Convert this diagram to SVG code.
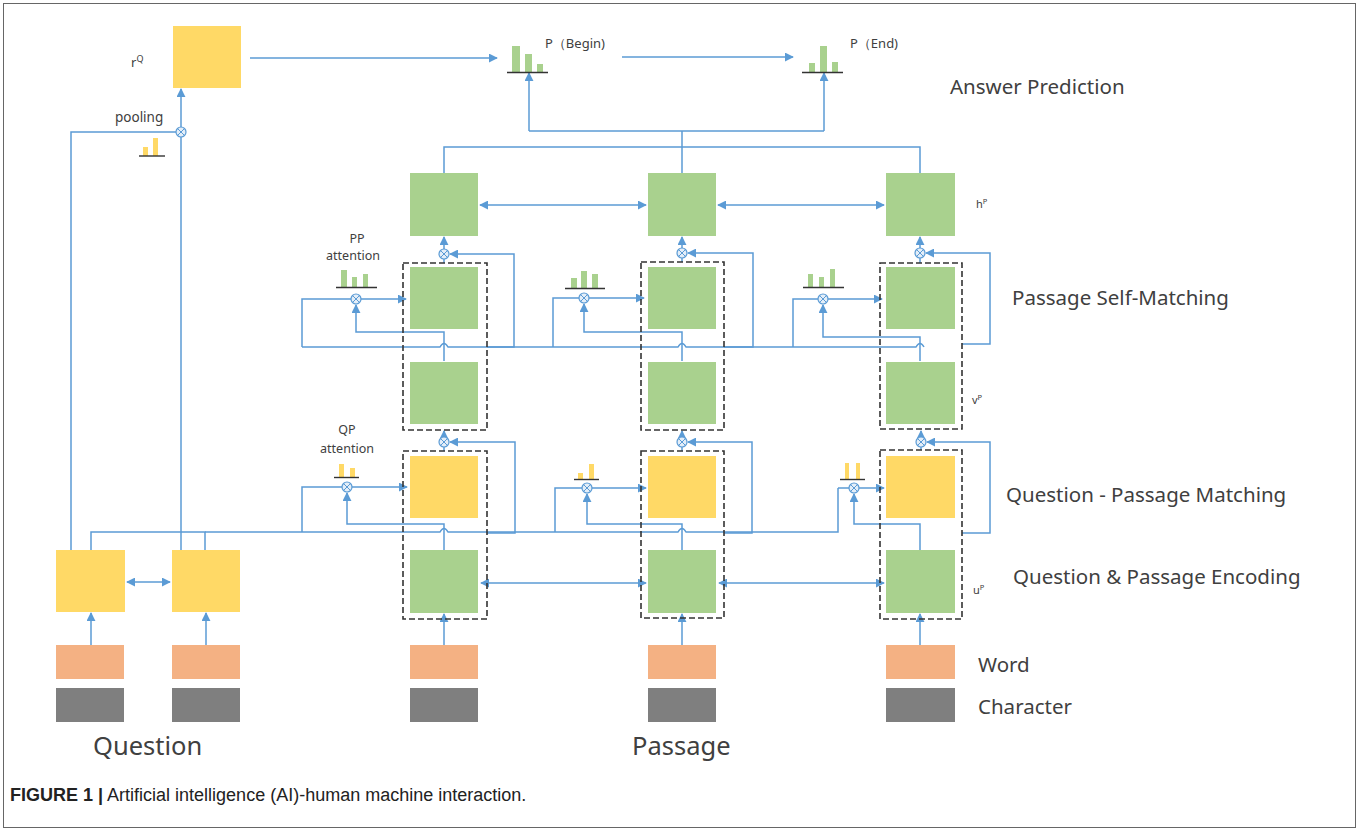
<svg xmlns="http://www.w3.org/2000/svg" xmlns:xlink="http://www.w3.org/1999/xlink" width="1359" height="831" viewBox="0 0 1359 831">
  <style>
    .ln { fill: none; stroke: #5B9BD5; stroke-width: 1.5; }
    .arr { marker-end: url(#ah); }
    .arr2 { marker-start: url(#ah); marker-end: url(#ah); }
    .yel { fill: #FFD966; }
    .grn { fill: #A9D18E; }
    .wrd { fill: #F4B183; }
    .chr { fill: #7F7F7F; }
    .dash { fill: none; stroke: #333; stroke-width: 1.6; stroke-dasharray: 6 3; }
    .base { stroke: #333; stroke-width: 1.4; }
    .bg { fill: #A9D18E; }
    .by { fill: #FFD966; }
    .t { font-family: "Noto Sans", "Open Sans", "DejaVu Sans", sans-serif; fill: #404040; }
    .sm { font-size: 12.5px; }
    .lab { font-size: 20.5px; }
    .big { font-size: 25.5px; }
    .cap { font-family: "Liberation Sans", Arial, sans-serif; font-size: 18px; fill: #222; }
  </style>
  <defs>
    <marker id="ah" viewBox="0 0 10 10" refX="9" refY="5" markerWidth="9" markerHeight="9" markerUnits="userSpaceOnUse" orient="auto-start-reverse">
      <path d="M0,0 L10,5 L0,10 z" fill="#5B9BD5"/>
    </marker>
    <g id="gate">
      <circle r="5" fill="#E4EEF8" stroke="#5B9BD5" stroke-width="1.2"/>
      <path d="M-3,-3 L3,3 M-3,3 L3,-3" stroke="#5B9BD5" stroke-width="1"/>
    </g>
  </defs>

  <rect width="1359" height="831" fill="#fff"/>
  <rect x="3.5" y="3.5" width="1352" height="824" fill="none" stroke="#666" stroke-width="1"/>

  <!-- connectors -->
  <g id="connectors">
    <!-- question pooling to rQ -->
    <polyline class="ln" points="71,550 71,132 176,132"/>
    <line class="ln arr" x1="181" y1="550" x2="181" y2="89"/>
    <!-- rQ to answer pointers -->
    <line class="ln arr" x1="250" y1="58" x2="497" y2="58"/>
    <line class="ln arr" x1="622" y1="57" x2="793" y2="57"/>
    <!-- hP outputs up to the pointers -->
    <line class="ln arr" x1="529" y1="131" x2="529" y2="73"/>
    <line class="ln arr" x1="824" y1="131" x2="824" y2="73"/>
    <line class="ln" x1="529" y1="131" x2="824" y2="131"/>
    <line class="ln" x1="682" y1="131" x2="682" y2="173"/>
    <polyline class="ln" points="444,173 444,147 920,147 920,173"/>
    <!-- hP recurrence -->
    <line class="ln arr2" x1="480" y1="205" x2="646" y2="205"/>
    <line class="ln arr2" x1="718" y1="205" x2="884" y2="205"/>

    <!-- self-matching gates into hP -->
    <line class="ln arr" x1="444" y1="249" x2="444" y2="237"/>
    <line class="ln arr" x1="682" y1="248" x2="682" y2="237"/>
    <line class="ln arr" x1="920" y1="248" x2="920" y2="237"/>
    <line class="ln" x1="444" y1="263" x2="444" y2="259"/>
    <line class="ln" x1="682" y1="262" x2="682" y2="258"/>
    <line class="ln" x1="920" y1="263" x2="920" y2="258"/>
    <polyline class="ln arr" points="487,347 514,347 514,254 450,254"/>
    <polyline class="ln arr" points="724,347 753,347 753,253 688,253"/>
    <polyline class="ln arr" points="962,344 990,344 990,253 926,253"/>

    <!-- shared passage sequence line (hops over vertical links) -->
    <path class="ln" d="M302,347 H440 q4,-7 8,0 H678 q4,-7 8,0 H916 q4,-7 8,0"/>

    <!-- PP attention -->
    <polyline class="ln arr" points="302,347 302,299 406,299"/>
    <polyline class="ln arr" points="444,361 444,332 356,332 356,305"/>
    <polyline class="ln arr" points="553,347 553,298 644,298"/>
    <polyline class="ln arr" points="682,361 682,332 584,332 584,304"/>
    <polyline class="ln arr" points="793,347 793,299 882,299"/>
    <polyline class="ln arr" points="920,361 920,337 823,337 823,305"/>

    <!-- QP gates into self-matching block -->
    <line class="ln arr" x1="444" y1="437" x2="444" y2="431"/>
    <line class="ln arr" x1="682" y1="437" x2="682" y2="431"/>
    <line class="ln arr" x1="921" y1="437" x2="921" y2="431"/>
    <line class="ln" x1="444" y1="451" x2="444" y2="447"/>
    <line class="ln" x1="682" y1="451" x2="682" y2="447"/>
    <line class="ln" x1="921" y1="450" x2="921" y2="447"/>
    <polyline class="ln arr" points="487,533 515,533 515,442 450,442"/>
    <polyline class="ln arr" points="724,533 752,533 752,442 688,442"/>
    <polyline class="ln arr" points="962,533 990,533 990,442 927,442"/>

    <!-- question encoding line -->
    <polyline class="ln" points="91,550 91,532 205,532 205,550"/>
    <path class="ln" d="M205,532 H440 q4,-7 8,0 H678 q4,-7 8,0 H838 V488"/>

    <!-- QP attention -->
    <polyline class="ln arr" points="302,532 302,487 407,487"/>
    <polyline class="ln arr" points="444,550 444,524 347,524 347,493"/>
    <polyline class="ln arr" points="555,532 555,488 646,488"/>
    <polyline class="ln arr" points="682,550 682,524 587,524 587,494"/>
    <polyline class="ln arr" points="838,488 884,488"/>
    <polyline class="ln arr" points="920,550 920,524 854,524 854,494"/>

    <!-- encoding recurrence -->
    <line class="ln arr2" x1="127" y1="582" x2="170" y2="582"/>
    <line class="ln arr2" x1="481" y1="583" x2="646" y2="583"/>
    <line class="ln arr2" x1="719" y1="583" x2="884" y2="583"/>

    <!-- embeddings into encoders -->
    <line class="ln arr" x1="91" y1="645" x2="91" y2="613"/>
    <line class="ln arr" x1="206" y1="645" x2="206" y2="613"/>
    <line class="ln arr" x1="444" y1="645" x2="444" y2="614"/>
    <line class="ln arr" x1="682" y1="645" x2="682" y2="614"/>
    <line class="ln arr" x1="920" y1="645" x2="920" y2="614"/>
  </g>

  <!-- gate symbols -->
  <g id="gates">
    <use xlink:href="#gate" x="181" y="132"/>
    <use xlink:href="#gate" x="444" y="254"/>
    <use xlink:href="#gate" x="682" y="253"/>
    <use xlink:href="#gate" x="920" y="253"/>
    <use xlink:href="#gate" x="356" y="299"/>
    <use xlink:href="#gate" x="584" y="298"/>
    <use xlink:href="#gate" x="823" y="299"/>
    <use xlink:href="#gate" x="444" y="442"/>
    <use xlink:href="#gate" x="682" y="442"/>
    <use xlink:href="#gate" x="921" y="442"/>
    <use xlink:href="#gate" x="347" y="487"/>
    <use xlink:href="#gate" x="587" y="488"/>
    <use xlink:href="#gate" x="854" y="488"/>
  </g>

  <!-- question side -->
  <g id="rQ">
    <rect class="yel" x="173" y="26" width="68" height="62"/>
    <text class="t" x="131" y="67" font-size="13">r<tspan font-size="9" dy="-5">Q</tspan></text>
  </g>
  <g id="pooling">
    <text class="t" x="115" y="122" font-size="13.5">pooling</text>
    <rect class="by" x="143" y="147" width="5" height="9"/>
    <rect class="by" x="153" y="138" width="5" height="18"/>
    <line class="base" x1="139" y1="156" x2="165" y2="156"/>
  </g>
  <g id="q-enc-1"><rect class="yel" x="56" y="550" width="69" height="62"/></g>
  <g id="q-enc-2"><rect class="yel" x="172" y="550" width="68" height="62"/></g>
  <g id="q-word-1"><rect class="wrd" x="56" y="645" width="68" height="34"/></g>
  <g id="q-word-2"><rect class="wrd" x="172" y="645" width="68" height="34"/></g>
  <g id="q-char-1"><rect class="chr" x="56" y="688" width="68" height="34"/></g>
  <g id="q-char-2"><rect class="chr" x="172" y="688" width="68" height="34"/></g>

  <!-- answer pointers -->
  <g id="p-begin">
    <rect class="bg" x="512" y="46" width="8" height="26"/>
    <rect class="bg" x="525" y="54" width="7" height="18"/>
    <rect class="bg" x="537" y="64" width="6" height="8"/>
    <line class="base" x1="507" y1="72.5" x2="548" y2="72.5"/>
    <text class="t" x="545" y="48" font-size="13">P（Begin)</text>
  </g>
  <g id="p-end">
    <rect class="bg" x="809" y="63" width="6" height="9"/>
    <rect class="bg" x="820" y="46" width="7" height="26"/>
    <rect class="bg" x="832" y="62" width="6" height="10"/>
    <line class="base" x1="802" y1="72.5" x2="843" y2="72.5"/>
    <text class="t" x="850" y="48" font-size="13">P（End)</text>
  </g>

  <!-- passage column 1 -->
  <g id="p1-h"><rect class="grn" x="410" y="173" width="68" height="63"/></g>
  <g id="p1-selfmatch">
    <rect class="dash" x="403" y="263" width="84" height="167"/>
    <rect class="grn" x="410" y="267" width="68" height="62"/>
    <rect class="grn" x="410" y="362" width="68" height="62"/>
  </g>
  <g id="p1-qpmatch">
    <rect class="dash" x="403" y="451" width="84" height="168"/>
    <rect class="yel" x="410" y="456" width="68" height="62"/>
    <rect class="grn" x="410" y="550" width="68" height="63"/>
  </g>
  <g id="p1-word"><rect class="wrd" x="410" y="645" width="68" height="34"/></g>
  <g id="p1-char"><rect class="chr" x="410" y="688" width="68" height="34"/></g>

  <!-- passage column 2 -->
  <g id="p2-h"><rect class="grn" x="648" y="173" width="68" height="63"/></g>
  <g id="p2-selfmatch">
    <rect class="dash" x="641" y="262" width="83" height="168"/>
    <rect class="grn" x="648" y="267" width="68" height="62"/>
    <rect class="grn" x="648" y="362" width="68" height="62"/>
  </g>
  <g id="p2-qpmatch">
    <rect class="dash" x="641" y="451" width="83" height="167"/>
    <rect class="yel" x="648" y="456" width="68" height="62"/>
    <rect class="grn" x="648" y="550" width="68" height="63"/>
  </g>
  <g id="p2-word"><rect class="wrd" x="648" y="645" width="68" height="34"/></g>
  <g id="p2-char"><rect class="chr" x="648" y="688" width="68" height="34"/></g>

  <!-- passage column 3 -->
  <g id="p3-h"><rect class="grn" x="886" y="173" width="69" height="63"/></g>
  <g id="p3-selfmatch">
    <rect class="dash" x="880" y="263" width="82" height="166"/>
    <rect class="grn" x="886" y="267" width="69" height="62"/>
    <rect class="grn" x="886" y="362" width="69" height="62"/>
  </g>
  <g id="p3-qpmatch">
    <rect class="dash" x="880" y="450" width="82" height="169"/>
    <rect class="yel" x="886" y="456" width="69" height="62"/>
    <rect class="grn" x="886" y="550" width="69" height="63"/>
  </g>
  <g id="p3-word"><rect class="wrd" x="886" y="645" width="69" height="34"/></g>
  <g id="p3-char"><rect class="chr" x="886" y="688" width="69" height="34"/></g>

  <!-- PP attention weights -->
  <g id="pp-att-1">
    <text class="t sm" x="357" y="243" text-anchor="middle">PP</text>
    <text class="t sm" x="353" y="260" text-anchor="middle">attention</text>
    <rect class="bg" x="341" y="270" width="6" height="17"/>
    <rect class="bg" x="352" y="277" width="5" height="10"/>
    <rect class="bg" x="363" y="274" width="5" height="13"/>
    <line class="base" x1="336" y1="287.5" x2="377" y2="287.5"/>
  </g>
  <g id="pp-att-2">
    <rect class="bg" x="571" y="278" width="6" height="10"/>
    <rect class="bg" x="581" y="271" width="6" height="17"/>
    <rect class="bg" x="592" y="274" width="6" height="14"/>
    <line class="base" x1="565" y1="288.5" x2="605" y2="288.5"/>
  </g>
  <g id="pp-att-3">
    <rect class="bg" x="808" y="274" width="5" height="13"/>
    <rect class="bg" x="819" y="277" width="5" height="10"/>
    <rect class="bg" x="830" y="269" width="5" height="18"/>
    <line class="base" x1="803" y1="287.5" x2="844" y2="287.5"/>
  </g>

  <!-- QP attention weights -->
  <g id="qp-att-1">
    <text class="t sm" x="347" y="434" text-anchor="middle">QP</text>
    <text class="t sm" x="347" y="453" text-anchor="middle">attention</text>
    <rect class="by" x="339" y="464" width="5" height="13"/>
    <rect class="by" x="350" y="468" width="5" height="9"/>
    <line class="base" x1="334" y1="477.5" x2="359" y2="477.5"/>
  </g>
  <g id="qp-att-2">
    <rect class="by" x="578" y="473" width="5" height="6"/>
    <rect class="by" x="589" y="464" width="5" height="15"/>
    <line class="base" x1="574" y1="479.5" x2="599" y2="479.5"/>
  </g>
  <g id="qp-att-3">
    <rect class="by" x="845" y="463" width="4" height="16"/>
    <rect class="by" x="856" y="463" width="4" height="16"/>
    <line class="base" x1="840" y1="479.5" x2="865" y2="479.5"/>
  </g>

  <!-- state labels -->
  <g id="state-labels">
    <text class="t" x="976" y="208" font-size="11">h<tspan font-size="7.5" dy="-4">P</tspan></text>
    <text class="t" x="972" y="404" font-size="11">v<tspan font-size="7.5" dy="-4">P</tspan></text>
    <text class="t" x="973" y="594" font-size="11">u<tspan font-size="7.5" dy="-4">P</tspan></text>
  </g>

  <!-- layer labels -->
  <g id="layer-labels">
    <text class="t lab" x="950" y="94" font-size="19.5">Answer Prediction</text>
    <text class="t lab" x="1012" y="305">Passage Self-Matching</text>
    <text class="t lab" x="1006" y="502">Question - Passage Matching</text>
    <text class="t lab" x="1013" y="584">Question &amp; Passage Encoding</text>
    <text class="t lab" x="978" y="672">Word</text>
    <text class="t lab" x="978" y="714">Character</text>
    <text class="t big" x="93" y="755">Question</text>
    <text class="t big" x="632" y="755">Passage</text>
  </g>

  <!-- caption -->
  <text class="cap" x="10" y="801"><tspan font-weight="bold">FIGURE 1 |</tspan> Artificial intelligence (AI)-human machine interaction.</text>
</svg>
